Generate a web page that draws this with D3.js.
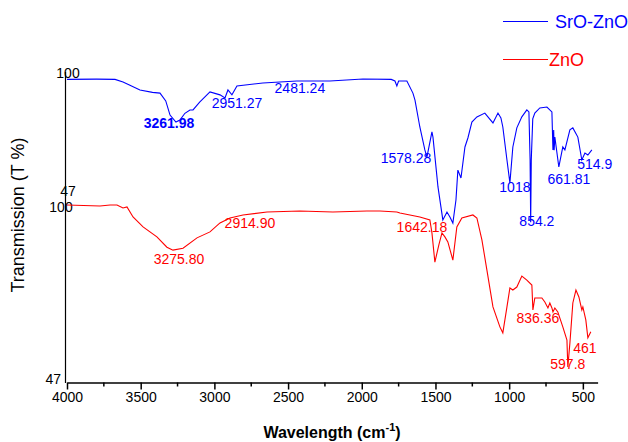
<!DOCTYPE html>
<html lang="en">
<head>
<meta charset="UTF-8">
<title>FTIR SrO-ZnO / ZnO</title>
<script src="https://d3js.org/d3.v7.min.js"></script>
<style>
    body { margin: 0; background: #fff; }
    text { font-family: Arial, "Liberation Sans", sans-serif; }
</style>
</head>
<body>
<svg id="chart" width="628" height="442"></svg>
<script>

// data: [wavenumber cm-1, transmission %]
const sroZno = [
    [4000, 97.6], [3800, 97.7], [3674, 97.6], [3620, 96.4], [3573, 95.0], [3505, 92.9],
    [3420, 91.8], [3369, 91.5], [3330, 88.0], [3301, 81.7], [3261, 78.6], [3234, 79.5],
    [3200, 82.5], [3166, 84.0], [3145, 84.0], [3100, 87.5], [3030, 92.0], [2962, 90.7],
    [2928, 89.3], [2908, 92.9], [2881, 90.7], [2847, 94.7], [2671, 96.0], [2440, 96.9],
    [2216, 96.9], [1992, 97.8], [1800, 97.6], [1775, 96.9], [1762, 94.7], [1750, 96.9],
    [1741, 96.9], [1694, 96.9], [1653, 91.5], [1639, 88.4], [1606, 76.4], [1572, 66.2],
    [1558, 63.0], [1524, 74.2], [1517, 71.9], [1483, 49.7], [1450, 35.0], [1422, 38.5],
    [1402, 36.3], [1382, 33.6], [1361, 43.9], [1348, 57.2], [1327, 53.7], [1300, 67.5],
    [1280, 71.5], [1253, 78.6], [1219, 80.9], [1165, 82.6], [1110, 78.2], [1076, 82.6],
    [1056, 80.4], [1043, 76.4], [1015, 61.7], [995, 51.5], [975, 67.5], [948, 76.0],
    [914, 80.9], [880, 84.0], [866, 83.1], [858, 61.7], [854, 34.0], [850, 61.7],
    [840, 80.0], [826, 82.6], [792, 84.9], [744, 85.3], [710, 83.1], [703, 66.2],
    [698, 75.0], [695, 66.0], [690, 71.9], [663, 58.6], [636, 67.5], [622, 66.2],
    [588, 75.1], [568, 76.0], [534, 71.9], [507, 61.7], [486, 64.8], [466, 63.9],
    [439, 66.2]
];

const zno = [
    [4000, 100.0], [3776, 99.7], [3708, 100.0], [3661, 100.0], [3620, 99.1], [3593, 99.4],
    [3552, 96.4], [3484, 93.4], [3390, 90.4], [3322, 87.3], [3281, 86.4], [3213, 87.0],
    [3118, 90.1], [3030, 91.9], [2962, 94.6], [2894, 96.1], [2806, 97.0], [2643, 97.9],
    [2420, 98.2], [2196, 97.9], [1965, 98.2], [1877, 98.2], [1762, 97.9], [1741, 97.6],
    [1606, 96.4], [1538, 95.5], [1524, 91.6], [1504, 82.8], [1477, 88.0], [1456, 91.6],
    [1436, 90.4], [1416, 88.9], [1382, 83.4], [1355, 93.4], [1321, 96.1], [1246, 97.0],
    [1219, 96.1], [1185, 89.5], [1151, 80.4], [1110, 69.3], [1063, 63.3], [1043, 61.5],
    [1015, 69.3], [995, 75.0], [975, 74.4], [948, 75.3], [914, 78.6], [880, 77.4],
    [846, 75.9], [839, 68.4], [826, 72.0], [778, 72.0], [758, 70.8], [737, 69.0],
    [724, 70.5], [710, 69.0], [703, 67.8], [690, 69.0], [670, 67.8], [636, 63.3],
    [608, 59.3], [602, 51.2], [588, 58.4], [568, 70.5], [547, 74.4], [527, 72.3],
    [507, 68.4], [500, 69.3], [480, 65.4], [466, 60.0], [446, 61.8]
];

// peak labels: [text, label centre (cm-1), label baseline (%), bold]
const sroZnoPeaks = [
    ['3261.98', 3308, 75.9, true], ['2951.27', 2847, 84.9], ['2481.24', 2420, 91.5],
    ['1578.28', 1700, 60.4], ['1018', 961, 47.4], ['854.2', 812, 32.3],
    ['661.81', 595, 51.0], ['514.9', 419, 57.7]
];
const znoPeaks = [
    ['3275.80', 3240, 82.2], ['2914.90', 2759, 93.1], ['1642.18', 1592, 91.9],
    ['836.36', 805, 64.5], ['597.8', 602, 50.7], ['461', 486, 55.4]
];
const xTicks = [4000, 3500, 3000, 2500, 2000, 1500, 1000, 500];
const xMinor = [3750, 3250, 2750, 2250, 1750, 1250, 750];

const blue = '#0000ff', red = '#ff0000';
const svg = d3.select('#chart');

const x = d3.scaleLinear().domain([4000, 400]).range([67, 597.6]);
const yTop = d3.scaleLinear().domain([47, 100]).range([193, 74]);
const yBot = d3.scaleLinear().domain([47, 100]).range([381, 205]);

// axes
svg.append('line').attr('x1', 65.5).attr('x2', 65.5).attr('y1', 72).attr('y2', 383)
    .attr('stroke', '#000').attr('stroke-width', 1.2);

const xAxis = d3.axisBottom(x).tickValues(xTicks).tickFormat(d3.format('d'))
    .tickSize(7).tickSizeOuter(0).tickPadding(3);
const gx = svg.append('g').attr('transform', 'translate(0,382.5)').call(xAxis);
gx.select('.domain').attr('stroke-width', 1.5);
gx.selectAll('.tick line').attr('stroke-width', 1.5);
gx.selectAll('.tick text').attr('font-size', 14).attr('fill', '#000')
    .style('font-family', 'Arial, "Liberation Sans", sans-serif');
gx.selectAll('.minor').data(xMinor).enter().append('line')
    .attr('x1', d => x(d)).attr('x2', d => x(d)).attr('y1', 0).attr('y2', 4)
    .attr('stroke', '#000').attr('stroke-width', 1.5);

// y labels (stacked panels, each 47..100)
const yLabels = [['100', 68, 78, 'middle'], ['47', 68, 196, 'middle'],
                 ['100', 61, 212, 'middle'], ['47', 61, 384, 'end']];
svg.selectAll('.ylab').data(yLabels).enter().append('text')
    .attr('x', d => d[1]).attr('y', d => d[2]).attr('text-anchor', d => d[3])
    .attr('font-size', 14).text(d => d[0]);

// lines
const lineTop = d3.line().x(d => x(d[0])).y(d => yTop(d[1]));
const lineBot = d3.line().x(d => x(d[0])).y(d => yBot(d[1]));
svg.append('path').datum(sroZno).attr('d', lineTop)
    .attr('fill', 'none').attr('stroke', blue).attr('stroke-width', 1.1);
svg.append('path').datum(zno).attr('d', lineBot)
    .attr('fill', 'none').attr('stroke', red).attr('stroke-width', 1.1);

// peak labels
svg.selectAll('.pt').data(sroZnoPeaks).enter().append('text')
    .attr('x', d => x(d[1])).attr('y', d => yTop(d[2])).attr('text-anchor', 'middle')
    .attr('font-size', 14).attr('font-weight', d => d[3] ? 'bold' : 'normal')
    .attr('fill', blue).text(d => d[0]);
svg.selectAll('.pb').data(znoPeaks).enter().append('text')
    .attr('x', d => x(d[1])).attr('y', d => yBot(d[2])).attr('text-anchor', 'middle')
    .attr('font-size', 14).attr('fill', red).text(d => d[0]);

// axis titles
const xt = svg.append('text').attr('x', 332).attr('y', 438).attr('text-anchor', 'middle')
    .attr('font-size', 16).attr('font-weight', 'bold');
xt.append('tspan').text('Wavelength (cm');
xt.append('tspan').attr('font-size', 11).attr('dy', -7).text('-1');
xt.append('tspan').attr('dy', 7).text(')');

svg.append('text').attr('transform', 'translate(24,215) rotate(-90)')
    .attr('text-anchor', 'middle').attr('font-size', 18).text('Transmission (T %)');

// legend
const legend = [['SrO-ZnO', blue, 21.5, 555], ['ZnO', red, 59.5, 549]];
legend.forEach(d => {
    svg.append('line').attr('x1', 503).attr('x2', 548).attr('y1', d[2]).attr('y2', d[2])
        .attr('stroke', d[1]).attr('stroke-width', 1.2);
    svg.append('text').attr('x', d[3]).attr('y', d[2] + 6.5).attr('font-size', 18)
        .attr('fill', d[1]).text(d[0]);
});

</script>
</body>
</html>
